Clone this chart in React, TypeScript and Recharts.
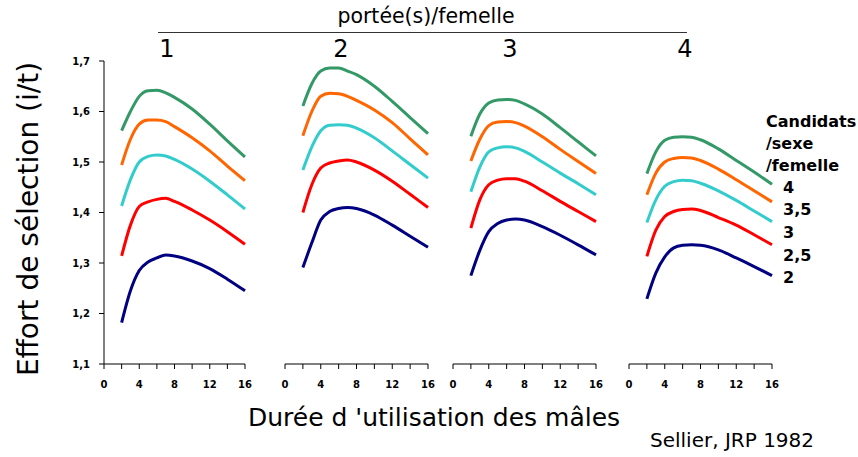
import React from "react";
import { LineChart, Line, XAxis, YAxis } from "recharts";

// durée d'utilisation des mâles (x)
const X_VALUES = [2, 3, 4, 5, 6, 7, 8, 10, 12, 14, 16];
const X_TICKS = [0, 2, 4, 6, 8, 10, 12, 14, 16];
const Y_TICKS = [1.1, 1.2, 1.3, 1.4, 1.5, 1.6, 1.7];

const PANEL_LABELS = ["1", "2", "3", "4"];
const LEGEND_LABELS = ["4", "3,5", "3", "2,5", "2"];

// 1 portée/femelle
const P1_2 = [1.182, 1.245, 1.285, 1.302, 1.31, 1.316, 1.314, 1.304, 1.289, 1.268, 1.245];
const P1_25 = [1.314, 1.375, 1.412, 1.421, 1.426, 1.428, 1.422, 1.405, 1.385, 1.362, 1.337];
const P1_3 = [1.413, 1.465, 1.5, 1.511, 1.514, 1.512, 1.505, 1.486, 1.462, 1.435, 1.407];
const P1_35 = [1.494, 1.545, 1.575, 1.583, 1.583, 1.58, 1.57, 1.548, 1.522, 1.492, 1.463];
const P1_4 = [1.562, 1.6, 1.63, 1.641, 1.642, 1.637, 1.628, 1.605, 1.575, 1.542, 1.51];

// 2 portées/femelle
const P2_2 = [1.291, 1.34, 1.385, 1.402, 1.408, 1.41, 1.408, 1.395, 1.375, 1.353, 1.331];
const P2_25 = [1.4, 1.455, 1.488, 1.498, 1.502, 1.504, 1.5, 1.484, 1.462, 1.436, 1.41];
const P2_3 = [1.484, 1.53, 1.562, 1.573, 1.574, 1.573, 1.567, 1.548, 1.522, 1.495, 1.468];
const P2_35 = [1.552, 1.6, 1.63, 1.636, 1.635, 1.63, 1.622, 1.603, 1.578, 1.546, 1.514];
const P2_4 = [1.611, 1.655, 1.68, 1.686, 1.686, 1.68, 1.673, 1.65, 1.62, 1.588, 1.556];

// 3 portées/femelle
const P3_2 = [1.275, 1.325, 1.362, 1.378, 1.385, 1.387, 1.385, 1.372, 1.355, 1.336, 1.316];
const P3_25 = [1.369, 1.425, 1.455, 1.464, 1.467, 1.467, 1.462, 1.443, 1.422, 1.402, 1.382];
const P3_3 = [1.441, 1.49, 1.52, 1.528, 1.53, 1.528, 1.521, 1.5, 1.478, 1.457, 1.435];
const P3_35 = [1.502, 1.545, 1.572, 1.579, 1.58, 1.578, 1.571, 1.55, 1.525, 1.501, 1.477];
const P3_4 = [1.551, 1.595, 1.617, 1.623, 1.624, 1.622, 1.615, 1.595, 1.568, 1.54, 1.512];

// 4 portées/femelle
const P4_2 = [1.229, 1.28, 1.312, 1.33, 1.335, 1.336, 1.335, 1.326, 1.31, 1.293, 1.275];
const P4_25 = [1.313, 1.365, 1.392, 1.402, 1.406, 1.407, 1.404, 1.39, 1.375, 1.356, 1.336];
const P4_3 = [1.38, 1.425, 1.452, 1.461, 1.464, 1.463, 1.458, 1.443, 1.424, 1.403, 1.382];
const P4_35 = [1.435, 1.478, 1.5, 1.507, 1.509, 1.508, 1.503, 1.486, 1.465, 1.443, 1.421];
const P4_4 = [1.477, 1.52, 1.543, 1.549, 1.55, 1.549, 1.544, 1.526, 1.503, 1.48, 1.456];

const SERIES = [
  { key: "s4", color: "#339966" },
  { key: "s35", color: "#FF6600" },
  { key: "s3", color: "#33CCCC" },
  { key: "s25", color: "#FF0000" },
  { key: "s2", color: "#000080" },
];

const buildRows = (s2: number[], s25: number[], s3: number[], s35: number[], s4: number[]) =>
  X_VALUES.map((x, i) => ({ x, s2: s2[i], s25: s25[i], s3: s3[i], s35: s35[i], s4: s4[i] }));

const PANELS = [
  { rows: buildRows(P1_2, P1_25, P1_3, P1_35, P1_4), left: 44, showY: true },
  { rows: buildRows(P2_2, P2_25, P2_3, P2_35, P2_4), left: 275, showY: false },
  { rows: buildRows(P3_2, P3_25, P3_3, P3_35, P3_4), left: 443, showY: false },
  { rows: buildRows(P4_2, P4_25, P4_3, P4_35, P4_4), left: 619, showY: false },
];

const FONT = "'DejaVu Sans', sans-serif";
const tickStyle = { fontSize: 10, fontWeight: 700, fill: "#000", fontFamily: FONT };

function Panel({ rows, left, showY }: { rows: any[]; left: number; showY: boolean }) {
  const width = showY ? 213 : 165;
  return (
    <div style={{ position: "absolute", left, top: 0 }}>
      <LineChart
        width={width}
        height={399}
        data={rows}
        margin={{ top: 61, right: 12, bottom: 5, left: showY ? 0 : 10 }}
      >
        <XAxis
          dataKey="x"
          type="number"
          domain={[0, 16]}
          ticks={X_TICKS}
          interval={0}
          tickFormatter={(v: number) => (v % 4 === 0 ? String(v) : "")}
          tick={tickStyle}
          tickSize={5}
          tickMargin={12}
          axisLine={{ stroke: "#000" }}
          tickLine={{ stroke: "#000" }}
          height={30}
        />
        <YAxis
          type="number"
          domain={[1.1, 1.7]}
          ticks={Y_TICKS}
          interval={0}
          hide={!showY}
          width={60}
          tickFormatter={(v: number) => v.toFixed(1).replace(".", ",")}
          tick={tickStyle}
          tickSize={5}
          tickMargin={9}
          axisLine={{ stroke: "#000" }}
          tickLine={{ stroke: "#000" }}
        />
        {SERIES.map((s) => (
          <Line
            key={s.key}
            dataKey={s.key}
            type="monotone"
            stroke={s.color}
            strokeWidth={3}
            dot={false}
            isAnimationActive={false}
          />
        ))}
      </LineChart>
    </div>
  );
}

const PANEL_LABEL_X = [167, 341, 510, 685];
const LEGEND_Y = [188, 210, 233, 256, 278];

export default function App() {
  return (
    <div
      style={{
        position: "absolute",
        left: 0,
        top: 0,
        width: 858,
        height: 457,
        background: "#fff",
        fontFamily: FONT,
        color: "#000",
        overflow: "hidden",
      }}
    >
      {PANELS.map((p, i) => (
        <Panel key={i} rows={p.rows} left={p.left} showY={p.showY} />
      ))}

      <div style={{ position: "absolute", left: 316, width: 220, top: 4, textAlign: "center", fontSize: 20.5 }}>
        portée(s)/femelle
      </div>
      <div style={{ position: "absolute", left: 158, width: 529, top: 32, borderTop: "1.5px solid #333" }} />
      {PANEL_LABELS.map((t, i) => (
        <div
          key={t}
          style={{ position: "absolute", left: PANEL_LABEL_X[i] - 20, width: 40, top: 35, textAlign: "center", fontSize: 24 }}
        >
          {t}
        </div>
      ))}

      <div
        style={{
          position: "absolute",
          left: 29 - 180,
          top: 219 - 16,
          width: 360,
          height: 32,
          lineHeight: "32px",
          textAlign: "center",
          fontSize: 28,
          transform: "rotate(-90deg)",
        }}
      >
        Effort de sélection (i/t)
      </div>

      <div style={{ position: "absolute", left: 214, width: 440, top: 403, textAlign: "center", fontSize: 25 }}>
        Durée d 'utilisation des mâles
      </div>
      <div style={{ position: "absolute", left: 650, top: 428, fontSize: 20 }}>Sellier, JRP 1982</div>

      <div style={{ position: "absolute", left: 766, top: 111, fontSize: 16, fontWeight: 700, lineHeight: "22px" }}>
        <div>Candidats</div>
        <div>/sexe</div>
        <div>/femelle</div>
      </div>
      {LEGEND_LABELS.map((t, i) => (
        <div
          key={t}
          style={{ position: "absolute", left: 783, top: LEGEND_Y[i] - 11, fontSize: 16, fontWeight: 700, lineHeight: "22px" }}
        >
          {t}
        </div>
      ))}
    </div>
  );
}
